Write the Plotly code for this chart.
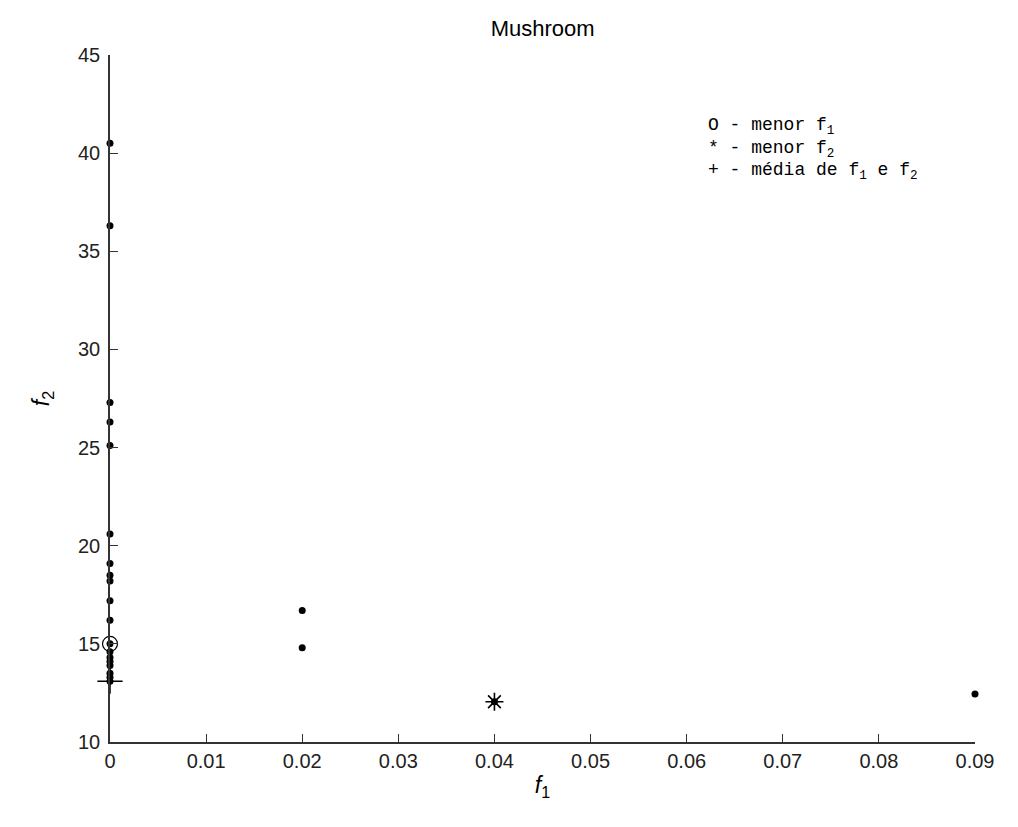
import plotly.graph_objects as go

# Pareto front solutions (f1, f2)
f1_vals = [0, 0, 0, 0, 0, 0, 0, 0, 0, 0, 0, 0, 0, 0, 0, 0, 0, 0, 0,
           0.02, 0.02, 0.04, 0.09]
f2_vals = [40.5, 36.3, 27.3, 26.3, 25.1, 20.6, 19.1, 18.5, 18.2, 17.2,
           16.2, 15.0, 14.6, 14.3, 13.9, 13.5, 13.1, 13.3, 14.1,
           16.7, 14.8, 12.05, 12.45]

# Highlighted solutions
min_f1 = (0, 15.0)       # menor f1
min_f2 = (0.04, 12.05)   # menor f2
mean_sol = (0, 13.1)     # media de f1 e f2

x_ticks = [0, 0.01, 0.02, 0.03, 0.04, 0.05, 0.06, 0.07, 0.08, 0.09]
x_tick_text = ["0", "0.01", "0.02", "0.03", "0.04", "0.05", "0.06", "0.07", "0.08", "0.09"]
y_ticks = [10, 15, 20, 25, 30, 35, 40, 45]

legend_lines = [
    "O - menor f<sub>1</sub>",
    "* - menor f<sub>2</sub>",
    "+ - média de f<sub>1</sub> e f<sub>2</sub>",
]

fig = go.Figure()
fig.add_trace(go.Scatter(
    x=f1_vals, y=f2_vals, mode="markers",
    marker=dict(color="black", size=7, symbol="circle"),
    cliponaxis=False, showlegend=False,
))
fig.add_trace(go.Scatter(
    x=[min_f1[0]], y=[min_f1[1]], mode="markers",
    marker=dict(symbol="circle-open", size=15, color="black", line=dict(width=1.2)),
    cliponaxis=False, showlegend=False,
))
fig.add_trace(go.Scatter(
    x=[min_f2[0]], y=[min_f2[1]], mode="markers",
    marker=dict(symbol="asterisk-open", size=15, color="black", line=dict(width=1.6)),
    cliponaxis=False, showlegend=False,
))
fig.add_trace(go.Scatter(
    x=[mean_sol[0]], y=[mean_sol[1]], mode="markers",
    marker=dict(symbol="cross-thin-open", size=18, color="black", line=dict(width=1.5)),
    cliponaxis=False, showlegend=False,
))

sans = "Liberation Sans, Arial, sans-serif"
axis_font = dict(family=sans, size=20, color="#222")

for i, line in enumerate(legend_lines):
    fig.add_annotation(
        text=line, xref="paper", yref="paper",
        x=0.689, y=0.896 - i * 0.033, xanchor="left", yanchor="middle",
        showarrow=False, align="left",
        font=dict(family="Liberation Mono, Courier New, monospace", size=18, color="black"),
    )

fig.update_layout(
    width=1018, height=827,
    paper_bgcolor="white", plot_bgcolor="white",
    margin=dict(l=110, r=43, t=55, b=85),
    title=dict(text="Mushroom", x=0.533, xanchor="center", y=0.966, yanchor="middle",
               font=dict(family=sans, size=22, color="black")),
    xaxis=dict(
        range=[0, 0.09], tickvals=x_ticks, ticktext=x_tick_text,
        showgrid=False, zeroline=False, showline=True, linecolor="#333", linewidth=1.5,
        ticks="inside", ticklen=8, tickcolor="#333", tickfont=axis_font,
        title=dict(text="<i>f</i><sub>1</sub>", font=dict(family=sans, size=23, color="black"), standoff=6),
    ),
    yaxis=dict(
        range=[10, 45], tickvals=y_ticks, ticklabelstandoff=4,
        showgrid=False, zeroline=False, showline=True, linecolor="#333", linewidth=1.5,
        ticks="inside", ticklen=8, tickcolor="#333", tickfont=axis_font,
        title=dict(text="<i>f</i><sub>2</sub>", font=dict(family=sans, size=23, color="black"), standoff=22),
    ),
)

fig.write_html("out.html")
